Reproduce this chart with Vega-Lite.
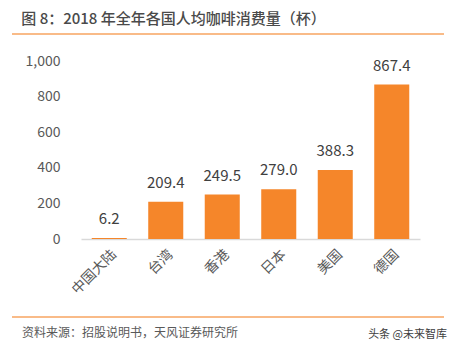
{
  "$schema": "https://vega.github.io/schema/vega-lite/v6.json",
  "width": 432,
  "height": 283,
  "autosize": {"type": "none"},
  "padding": {"left": 12, "top": 34, "right": 13, "bottom": 34},
  "background": "white",
  "config": {
    "view": {"stroke": null},
    "font": "Noto Sans CJK SC",
    "text": {"font": "Noto Sans CJK SC"}
  },
  "title": {
    "text": "图 8：2018 年全年各国人均咖啡消费量（杯）",
    "anchor": "start",
    "dx": 10,
    "offset": 6,
    "fontSize": 15,
    "fontWeight": 500,
    "color": "#4a4a4a",
    "font": "Noto Sans CJK SC"
  },
  "layer": [
    {
      "data": {
        "values": [
          {"region": "中国大陆", "cups": 6.2},
          {"region": "台湾", "cups": 209.4},
          {"region": "香港", "cups": 249.5},
          {"region": "日本", "cups": 279.0},
          {"region": "美国", "cups": 388.3},
          {"region": "德国", "cups": 867.4}
        ]
      },
      "encoding": {
        "x": {
          "field": "region",
          "type": "nominal",
          "sort": null,
          "scale": {"range": [69, 408], "paddingInner": 0.38, "paddingOuter": 0.19},
          "axis": {
            "title": null,
            "offset": -78,
            "labelAngle": -45,
            "labelFontSize": 14,
            "labelColor": "#595959",
            "labelFont": "Noto Sans CJK SC",
            "ticks": false,
            "labelPadding": 8,
            "domainColor": "#d9d9d9",
            "domainWidth": 1.5
          }
        },
        "y": {
          "field": "cups",
          "type": "quantitative",
          "scale": {"domain": [0, 1000], "range": [205, 27], "nice": false},
          "axis": {
            "title": null,
            "offset": -50,
            "values": [0, 200, 400, 600, 800, 1000],
            "format": ",.0f",
            "grid": false,
            "domain": false,
            "ticks": false,
            "labelPadding": 2,
            "labelFontSize": 14,
            "labelColor": "#595959",
            "labelFont": "Noto Sans CJK SC"
          }
        }
      },
      "layer": [
        {"mark": {"type": "bar", "color": "#F5862A"}},
        {
          "mark": {"type": "text", "baseline": "bottom", "dy": -11, "fontSize": 15, "color": "#404040"},
          "encoding": {"text": {"field": "cups", "type": "quantitative", "format": ".1f"}}
        }
      ]
    },
    {
      "data": {"values": [{"edge": 0}, {"edge": 1}]},
      "mark": {"type": "rule", "color": "#F7A461", "strokeWidth": 1.5},
      "encoding": {
        "y": {"field": "edge", "type": "quantitative", "scale": {"domain": [0, 1]}, "axis": null}
      }
    },
    {
      "data": {"values": [{"note": "资料来源：招股说明书，天风证券研究所"}]},
      "mark": {"type": "text", "align": "left", "baseline": "middle", "dx": 10, "dy": 16, "fontSize": 12, "color": "#595959"},
      "encoding": {
        "x": {"datum": 0, "type": "quantitative", "scale": {"domain": [0, 1]}, "axis": null},
        "y": {"datum": 0, "type": "quantitative", "scale": {"domain": [0, 1]}, "axis": null},
        "text": {"field": "note"}
      }
    },
    {
      "data": {"values": [{"note": "头条 @未来智库"}]},
      "mark": {"type": "text", "align": "right", "baseline": "middle", "dx": 3, "dy": 18, "fontSize": 11, "color": "#404040"},
      "encoding": {
        "x": {"datum": 1, "type": "quantitative", "scale": {"domain": [0, 1]}, "axis": null},
        "y": {"datum": 0, "type": "quantitative", "scale": {"domain": [0, 1]}, "axis": null},
        "text": {"field": "note"}
      }
    }
  ],
  "resolve": {"scale": {"x": "independent", "y": "independent"}}
}
